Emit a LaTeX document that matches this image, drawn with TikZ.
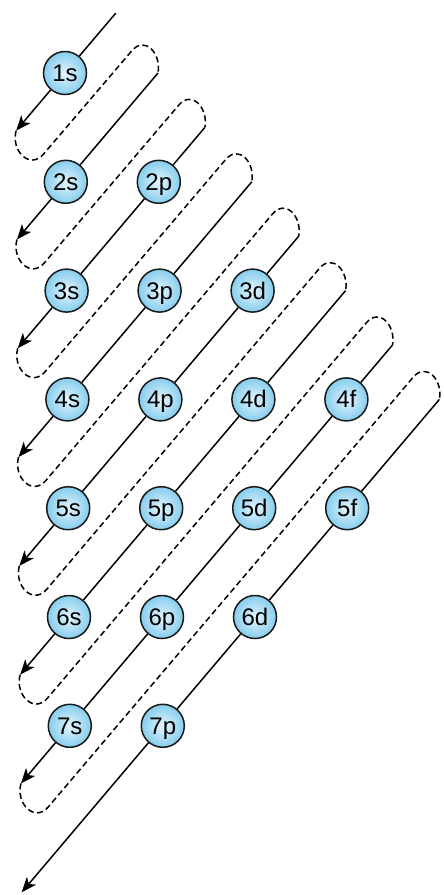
\documentclass[tikz,border=0pt]{standalone}
\usepackage{fontspec}
\setmainfont{Liberation Sans}
\usetikzlibrary{arrows.meta,calc}

\definecolor{orbin}{HTML}{E4F5FD}
\definecolor{orbout}{HTML}{86CDEE}

\begin{document}
\begin{tikzpicture}[x=1pt, y=1pt,
  orb/.style={circle, draw=black!90, line width=1.5pt, minimum size=43pt,
    inner sep=0pt, inner color=orbin, outer color=orbout,
    text height=17pt, text depth=0pt, font=\fontsize{24}{24}\selectfont},
  fillpath/.style={line width=1.5pt, -{Stealth[length=15pt,width=12pt,inset=4pt]}},
  backpath/.style={line width=1.5pt, dash pattern=on 6pt off 3.5pt},
]
  \useasboundingbox (0,0) rectangle (444,-895);

  % --- orbitals on the grid (n, l) ----------------------------------
  \foreach \n/\l/\t in {1/0/1s, 2/0/2s, 2/1/2p, 3/0/3s, 3/1/3p, 3/2/3d,
      4/0/4s, 4/1/4p, 4/2/4d, 4/3/4f, 5/0/5s, 5/1/5p, 5/2/5d, 5/3/5f,
      6/0/6s, 6/1/6p, 6/2/6d, 7/0/7s, 7/1/7p}
    \node[orb] (o\t) at ({65+93*\l+0.8*(\n-1)}, {-73-108.8*(\n-1)}) {\t};

  % --- ends of the diagonals ----------------------------------------
  \coordinate (top1) at (115.7,-13.2);
  \foreach \m in {2,...,8}
    \coordinate (top\m) at ({65+46.5*\m+0.8*(\m/2-1)}, {-73-108.8*(\m/2-1)});
  \foreach \m in {1,...,8}
    \coordinate (bot\m) at ({15.71+0.8*(\m-0.47)}, {-73-108.8*(\m-0.47)});

  % --- solid diagonals ----------------------------------------------
  \draw[fillpath] (top1) -- (o1s) -- (bot1);
  \draw[fillpath] (top2) -- (o2s) -- (bot2);
  \draw[fillpath] (top3) -- (o2p) -- (o3s) -- (bot3);
  \draw[fillpath] (top4) -- (o3p) -- (o4s) -- (bot4);
  \draw[fillpath] (top5) -- (o3d) -- (o4p) -- (o5s) -- (bot5);
  \draw[fillpath] (top6) -- (o4d) -- (o5p) -- (o6s) -- (bot6);
  \draw[fillpath] (top7) -- (o4f) -- (o5d) -- (o6p) -- (o7s) -- (bot7);
  \draw[fillpath] (top8) -- (o5f) -- (o6d) -- (o7p) -- (bot8);

  % --- dashed returns -----------------------------------------------
  \foreach \m [evaluate=\m as \k using int(\m+1)] in {1,...,7}
    \draw[backpath] (bot\m) to[out=-105, in=230, looseness=1.5] ($(bot\m)+(27.5,-23.3)$)
      -- ($(top\k)+(-26.2,22.2)$) to[out=50, in=80, looseness=1.5] (top\k);
\end{tikzpicture}
\end{document}
